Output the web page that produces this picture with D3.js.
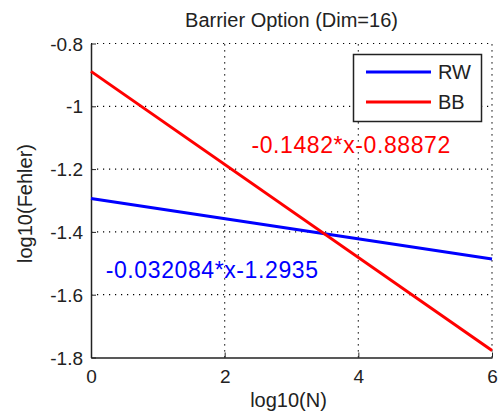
<!DOCTYPE html>
<html>
<head>
<meta charset="utf-8">
<script src="https://cdn.jsdelivr.net/npm/d3@7"></script>
<style>
  body { margin: 0; background: #fff; }
  text { font-family: "Liberation Sans", Arial, sans-serif; }
</style>
</head>
<body>
<div id="chart-container"></div>
<script>
// fitted lines: y = slope*x + intercept, drawn over log10(N) in [0,6]
var seriesNames = ["RW", "BB"];
var slopes = [-0.032084, -0.1482];
var intercepts = [-1.2935, -0.88872];
var colors = ["#0000ff", "#ff0000"];
var xTicks = [0, 2, 4, 6];
var yTicks = [-1.8, -1.6, -1.4, -1.2, -1, -0.8];
var labels = ["-0.032084*x-1.2935", "-0.1482*x-0.88872"];
var labelPos = [[0.22, -1.547], [2.4, -1.149]];

var width = 498;
var height = 419;
var margin = {left: 91, right: 6, top: 43.5, bottom: 61.5};

var x = d3.scaleLinear()
    .domain([0, 6])
    .range([margin.left, width - margin.right]);

var y = d3.scaleLinear()
    .domain([-1.8, -0.8])
    .range([height - margin.bottom, margin.top]);

var svg = d3.select("#chart-container")
    .append("svg")
    .attr("width", width)
    .attr("height", height);

// dotted grid
svg.append("g")
    .selectAll("line")
    .data(xTicks.slice(1))
    .enter().append("line")
    .attr("x1", function(d) { return x(d); })
    .attr("x2", function(d) { return x(d); })
    .attr("y1", y(-1.8))
    .attr("y2", y(-0.8))
    .attr("stroke", "#000")
    .attr("stroke-width", 1.2)
    .attr("stroke-dasharray", "1.2,4.8");

svg.append("g")
    .selectAll("line")
    .data(yTicks.slice(1))
    .enter().append("line")
    .attr("x1", x(0))
    .attr("x2", x(6))
    .attr("y1", function(d) { return y(d); })
    .attr("y2", function(d) { return y(d); })
    .attr("stroke", "#000")
    .attr("stroke-width", 1.2)
    .attr("stroke-dasharray", "1.2,4.8");

// axes, ticks pointing inward
var xAxis = svg.append("g")
    .attr("transform", "translate(0," + y(-1.8) + ")")
    .call(d3.axisBottom(x).tickValues(xTicks).tickSizeInner(-5).tickSizeOuter(0).tickPadding(12)
        .tickFormat(function(d) { return String(d); }));

var yAxis = svg.append("g")
    .attr("transform", "translate(" + x(0) + ",0)")
    .call(d3.axisLeft(y).tickValues(yTicks).tickSizeInner(-5).tickSizeOuter(0).tickPadding(8)
        .tickFormat(function(d) { return String(+d.toFixed(1)); }));

[xAxis, yAxis].forEach(function(a) {
    a.select(".domain").attr("stroke", "#222").attr("stroke-width", 1.5);
    a.selectAll(".tick line").attr("stroke", "#222");
    a.selectAll(".tick text")
        .attr("fill", "#222")
        .style("font-size", "19px")
        .style("font-family", "'Liberation Sans', Arial, sans-serif");
});
yAxis.selectAll(".tick text").attr("dy", "0.35em");

// lines
svg.append("g")
    .selectAll("line")
    .data(seriesNames)
    .enter().append("line")
    .attr("x1", x(0))
    .attr("x2", x(6))
    .attr("y1", function(d, i) { return y(intercepts[i]); })
    .attr("y2", function(d, i) { return y(slopes[i] * 6 + intercepts[i]); })
    .attr("stroke", function(d, i) { return colors[i]; })
    .attr("stroke-width", 3);

// fit labels
svg.append("g")
    .selectAll("text")
    .data(labels)
    .enter().append("text")
    .attr("x", function(d, i) { return x(labelPos[i][0]); })
    .attr("y", function(d, i) { return y(labelPos[i][1]); })
    .attr("fill", function(d, i) { return colors[i]; })
    .style("font-size", "23px")
    .style("letter-spacing", "0.6px")
    .text(function(d) { return d; });

// title and axis labels
svg.append("text")
    .attr("x", (x(0) + x(6)) / 2)
    .attr("y", 27)
    .attr("text-anchor", "middle")
    .attr("fill", "#222")
    .style("font-size", "20px")
    .text("Barrier Option (Dim=16)");

svg.append("text")
    .attr("x", (x(0) + x(6)) / 2 - 3)
    .attr("y", 407)
    .attr("text-anchor", "middle")
    .attr("fill", "#222")
    .style("font-size", "20px")
    .text("log10(N)");

svg.append("text")
    .attr("transform", "translate(32," + ((y(-1.8) + y(-0.8)) / 2 + 3) + ") rotate(-90)")
    .attr("text-anchor", "middle")
    .attr("fill", "#222")
    .style("font-size", "20px")
    .text("log10(Fehler)");

// legend
var legend = svg.append("g");
legend.append("rect")
    .attr("x", 353.5)
    .attr("y", 54.5)
    .attr("width", 128)
    .attr("height", 67)
    .attr("fill", "#fff")
    .attr("stroke", "#222")
    .attr("stroke-width", 1.5);

var item = legend.selectAll(".item")
    .data(seriesNames)
    .enter().append("g")
    .attr("transform", function(d, i) { return "translate(0," + (72 + i * 30) + ")"; });

item.append("line")
    .attr("x1", 366)
    .attr("x2", 431)
    .attr("stroke", function(d, i) { return colors[i]; })
    .attr("stroke-width", 3);

item.append("text")
    .attr("x", 438)
    .attr("dy", "0.36em")
    .attr("fill", "#222")
    .style("font-size", "20px")
    .text(function(d) { return d; });
</script>
</body>
</html>
